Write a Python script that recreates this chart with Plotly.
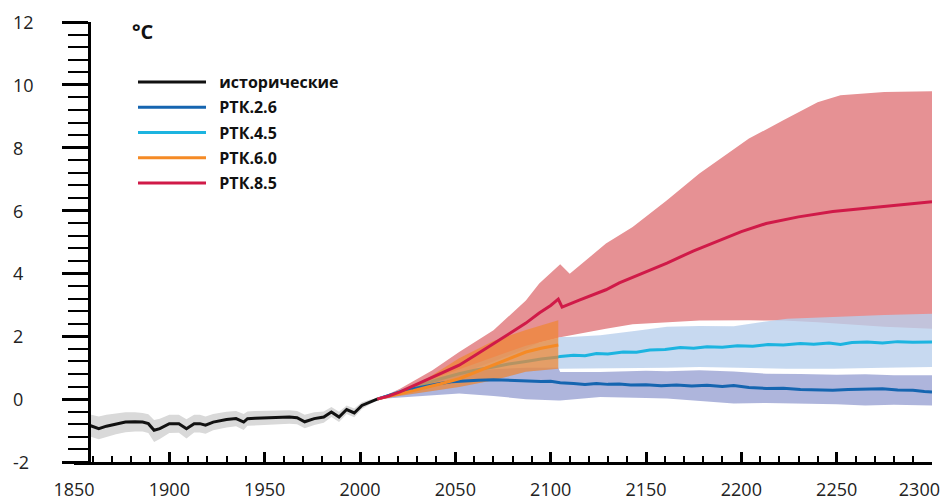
import plotly.graph_objects as go

# ---------------- historical record (anomaly, °C) ----------------
hist_years = [1858, 1863, 1867, 1872, 1877, 1882, 1886, 1889, 1892, 1895, 1900, 1905,
              1909, 1913, 1916, 1919, 1923, 1930, 1935, 1939, 1941, 1945, 1951, 1957,
              1963, 1967, 1971, 1976, 1981, 1985, 1989, 1993, 1997, 2001, 2005, 2009]
hist_mean = [-0.83, -0.94, -0.86, -0.80, -0.73, -0.72, -0.73, -0.78, -0.99, -0.94, -0.78, -0.78,
             -0.94, -0.78, -0.78, -0.83, -0.73, -0.65, -0.62, -0.73, -0.62, -0.61, -0.60, -0.58,
             -0.57, -0.59, -0.72, -0.62, -0.57, -0.41, -0.57, -0.33, -0.44, -0.20, -0.09, 0.00]
hist_high = [-0.48, -0.55, -0.50, -0.47, -0.42, -0.42, -0.44, -0.48, -0.66, -0.62, -0.50, -0.50,
             -0.64, -0.50, -0.50, -0.55, -0.47, -0.40, -0.38, -0.47, -0.39, -0.38, -0.38, -0.36,
             -0.35, -0.38, -0.50, -0.42, -0.39, -0.25, -0.40, -0.20, -0.30, -0.10, -0.02, 0.03]
hist_low = [-1.18, -1.28, -1.20, -1.12, -1.05, -1.03, -1.03, -1.08, -1.36, -1.27, -1.08, -1.07,
            -1.25, -1.06, -1.06, -1.10, -0.99, -0.90, -0.86, -0.98, -0.85, -0.84, -0.82, -0.80,
            -0.78, -0.80, -0.93, -0.82, -0.75, -0.57, -0.73, -0.47, -0.58, -0.31, -0.16, -0.03]

# ---------------- RCP 2.6 ----------------
rcp26_years = [2009, 2015, 2021, 2028, 2035, 2042, 2048, 2055, 2062, 2070, 2078, 2087, 2095,
               2100, 2105, 2112, 2118, 2124, 2130, 2136, 2142, 2150, 2158, 2166, 2174, 2182,
               2190, 2196, 2204, 2213, 2222, 2231, 2240, 2248, 2256, 2265, 2274, 2282, 2290,
               2296, 2300]
rcp26_mean = [0.00, 0.12, 0.22, 0.33, 0.42, 0.50, 0.55, 0.58, 0.60, 0.62, 0.60, 0.60, 0.56,
              0.57, 0.52, 0.50, 0.47, 0.50, 0.47, 0.48, 0.45, 0.46, 0.43, 0.45, 0.42, 0.44,
              0.40, 0.43, 0.37, 0.34, 0.35, 0.31, 0.29, 0.28, 0.31, 0.32, 0.33, 0.29, 0.28,
              0.24, 0.23]
rcp26_band_years = [2009, 2021, 2035, 2052, 2070, 2087, 2104, 2105, 2126, 2150, 2161, 2178,
                    2196, 2213, 2231, 2250, 2265, 2280, 2300]
rcp26_high = [0.00, 0.30, 0.60, 0.85, 0.95, 1.00, 1.00, 0.86, 0.86, 0.90, 0.89, 0.92,
              0.88, 0.81, 0.80, 0.78, 0.79, 0.76, 0.76]
rcp26_low = [0.00, 0.05, 0.12, 0.18, 0.10, 0.00, -0.04, -0.04, 0.07, 0.04, 0.02, -0.05,
             -0.14, -0.12, -0.14, -0.16, -0.20, -0.18, -0.20]

# ---------------- RCP 4.5 ----------------
rcp45_years = [2009, 2015, 2021, 2028, 2035, 2042, 2052, 2060, 2070, 2078, 2087, 2095, 2103,
               2105, 2112, 2118, 2124, 2130, 2138, 2145, 2152, 2160, 2168, 2175, 2182, 2190,
               2198, 2206, 2214, 2222, 2231, 2238, 2246, 2252, 2258, 2266, 2274, 2282, 2290,
               2300]
rcp45_mean = [0.00, 0.12, 0.24, 0.38, 0.52, 0.64, 0.81, 0.92, 1.02, 1.12, 1.20, 1.28, 1.33,
              1.36, 1.40, 1.38, 1.45, 1.44, 1.50, 1.49, 1.56, 1.58, 1.64, 1.62, 1.67, 1.65,
              1.70, 1.68, 1.74, 1.72, 1.77, 1.75, 1.79, 1.74, 1.80, 1.82, 1.79, 1.83, 1.81,
              1.82]
rcp45_band_years = [2009, 2021, 2035, 2052, 2070, 2087, 2104, 2105, 2110, 2126, 2145, 2161,
                    2178, 2196, 2210, 2224, 2248, 2275, 2300]
rcp45_high = [0.00, 0.28, 0.58, 0.95, 1.35, 1.70, 1.95, 1.98, 1.98, 2.03, 2.18, 2.30,
              2.33, 2.32, 2.45, 2.56, 2.61, 2.68, 2.72]
rcp45_low = [0.00, 0.10, 0.22, 0.39, 0.60, 0.87, 0.97, 0.97, 0.96, 0.97, 0.99, 1.00,
             1.02, 0.99, 0.98, 0.97, 0.97, 1.00, 1.02]

# ---------------- RCP 6.0 ----------------
rcp60_years = [2009, 2015, 2021, 2028, 2035, 2042, 2052, 2060, 2070, 2078, 2087, 2095, 2104]
rcp60_mean = [0.00, 0.08, 0.16, 0.27, 0.38, 0.48, 0.65, 0.85, 1.08, 1.28, 1.50, 1.62, 1.72]
rcp60_band_years = [2009, 2021, 2035, 2052, 2070, 2087, 2104]
rcp60_high = [0.00, 0.25, 0.65, 1.30, 1.85, 2.20, 2.51]
rcp60_low = [0.00, 0.10, 0.23, 0.39, 0.60, 0.87, 0.97]

# ---------------- RCP 8.5 ----------------
rcp85_years = [2009, 2015, 2021, 2028, 2038, 2045, 2052, 2060, 2070, 2078, 2087, 2094, 2100,
               2104, 2106, 2115, 2129, 2136, 2145, 2161, 2175, 2187, 2200, 2213, 2230, 2248,
               2262, 2274, 2288, 2300]
rcp85_mean = [0.00, 0.10, 0.23, 0.42, 0.70, 0.88, 1.08, 1.38, 1.77, 2.08, 2.42, 2.74, 2.98,
              3.18, 2.93, 3.15, 3.48, 3.70, 3.93, 4.33, 4.72, 5.02, 5.33, 5.59, 5.80, 5.97,
              6.05, 6.11, 6.20, 6.28]
rcp85_band_years = [2009, 2021, 2038, 2052, 2070, 2087, 2094, 2105, 2110, 2129, 2143, 2161,
                    2178, 2204, 2222, 2240, 2252, 2275, 2300]
rcp85_high = [0.00, 0.33, 0.92, 1.50, 2.19, 3.14, 3.68, 4.29, 3.99, 4.95, 5.48, 6.33,
              7.18, 8.29, 8.87, 9.45, 9.67, 9.77, 9.80]
rcp85_low = [0.00, 0.12, 0.45, 0.80, 1.20, 1.60, 1.80, 1.97, 2.03, 2.24, 2.38, 2.45,
             2.50, 2.51, 2.50, 2.45, 2.40, 2.30, 2.24]

x_tick_vals = [1850, 1900, 1950, 2000, 2050, 2100, 2150, 2200, 2250, 2300]
x_tick_text = ["1850", "1900", "1950", "2000", "2050", "2100", "2150", "2200", "2250", "2300"]
y_tick_vals = [-2, 0, 2, 4, 6, 8, 10, 12]
y_tick_text = ["-2", "0", "2", "4", "6", "8", "10", "12"]

series_names = ["исторические", "РТК.2.6", "РТК.4.5", "РТК.6.0", "РТК.8.5"]
unit_label = "°C"

FONT = "Open Sans"
C_HIST, C26, C45, C60, C85 = "#111111", "#1565B0", "#1CB4E0", "#F58A25", "#D01A48"
LEG_PAD = "\u00a0\u00a0"


def band(years, low, high, color):
    return go.Scatter(x=list(years) + list(years)[::-1], y=list(high) + list(low)[::-1],
                      fill="toself", fillcolor=color, line=dict(width=0), mode="lines",
                      hoverinfo="skip", showlegend=False)


def line(years, values, name, color, rank):
    return go.Scatter(x=years, y=values, mode="lines", name=LEG_PAD + name,
                      line=dict(color=color, width=3), legendrank=rank,
                      legendgroup=name)


fig = go.Figure()
fig.add_trace(band(hist_years, hist_low, hist_high, "#D9D9D9"))
fig.add_trace(band(rcp85_band_years, rcp85_low, rcp85_high, "#E69194"))
fig.add_trace(band(rcp45_band_years, rcp45_low, rcp45_high, "rgba(185,208,236,0.80)"))
fig.add_trace(band(rcp26_band_years, rcp26_low, rcp26_high, "rgba(160,168,214,0.85)"))
fig.add_trace(line(rcp45_years, rcp45_mean, series_names[2], C45, 3))
fig.add_trace(band(rcp60_band_years, rcp60_low, rcp60_high, "rgba(240,135,50,0.72)"))
fig.add_trace(line(rcp26_years, rcp26_mean, series_names[1], C26, 2))
fig.add_trace(line(rcp60_years, rcp60_mean, series_names[3], C60, 4))
fig.add_trace(line(rcp85_years, rcp85_mean, series_names[4], C85, 5))
fig.add_trace(line(hist_years, hist_mean, series_names[0], C_HIST, 1))

L, R, T, B = 74, 9, 22, 42
W, H = 941, 504
pw = W - L - R
ph = H - T - B
x0, x1 = 1850, 2300
# vertical axis sits slightly to the right of the start of the time axis
yaxis_pos = (89 - L) / pw

minor_x = [v for v in range(1860, 2300, 10) if v % 50]
TICK_FONT = dict(family=FONT, size=18, color="#222222")

fig.update_layout(
    width=W, height=H,
    margin=dict(l=L, r=R, t=T, b=B, autoexpand=False),
    plot_bgcolor="white", paper_bgcolor="white",
    font=dict(family=FONT, color="#222222"),
    xaxis=dict(range=[x0, x1], showgrid=False, zeroline=False, showline=True, automargin=False,
               linecolor="black", linewidth=3, ticks="inside", ticklen=10, tickwidth=3,
               tickcolor="black", tickvals=x_tick_vals[1:], showticklabels=False,
               minor=dict(ticks="inside", tickvals=minor_x, ticklen=6, tickwidth=1.5,
                          tickcolor="black")),
    xaxis2=dict(range=[x0, x1], overlaying="x", anchor="y", showgrid=False, zeroline=False,
                showline=False, ticks="", automargin=False,
                tickvals=x_tick_vals[:-1], ticktext=x_tick_text[:-1],
                tickfont=TICK_FONT, ticklabelstandoff=15),
    xaxis3=dict(range=[x0, x1], overlaying="x", anchor="y", showgrid=False, zeroline=False,
                showline=False, ticks="", automargin=False,
                tickvals=x_tick_vals[-1:], ticktext=x_tick_text[-1:],
                tickfont=TICK_FONT, ticklabelstandoff=15, ticklabelposition="outside left",
                ticklabelshift=8),
    yaxis=dict(range=[-2, 12], anchor="free", position=yaxis_pos, showgrid=False,
               automargin=False,
               zeroline=False, showline=True, linecolor="black", linewidth=3,
               ticks="outside", ticklen=26, tickwidth=3, tickcolor="black",
               tickvals=y_tick_vals, showticklabels=False,
               minor=dict(ticks="outside", dtick=0.4, tick0=-2, ticklen=20, tickwidth=2,
                          tickcolor="black")),
    showlegend=True,
    legend=dict(x=(133 - L) / pw, y=1 - (65 - T) / ph, xanchor="left", yanchor="top",
                itemwidth=68, bgcolor="rgba(0,0,0,0)", tracegroupgap=1.5,
                traceorder="grouped",
                font=dict(family=FONT, size=16, color="#111111", weight="bold")),
)

# helper traces so that the label-only axes are drawn
fig.add_trace(go.Scatter(x=[x0], y=[-2], xaxis="x2", mode="markers", marker=dict(opacity=0),
                         showlegend=False, hoverinfo="skip"))
fig.add_trace(go.Scatter(x=[x0], y=[-2], xaxis="x3", mode="markers", marker=dict(opacity=0),
                         showlegend=False, hoverinfo="skip"))

# value labels of the vertical axis, left-aligned
for v, t in zip(y_tick_vals, y_tick_text):
    fig.add_annotation(x=(11 - L) / pw, xref="paper", y=v, yref="y", text=t,
                       showarrow=False, xanchor="left", yanchor="middle", font=TICK_FONT)

fig.add_annotation(x=(130 - L) / pw, xref="paper", y=1 - (31 - T) / ph, yref="paper",
                   text=unit_label, showarrow=False, xanchor="left", yanchor="middle",
                   font=dict(family=FONT, size=20, color="#111111", weight="bold"))

fig.write_html("out.html")
